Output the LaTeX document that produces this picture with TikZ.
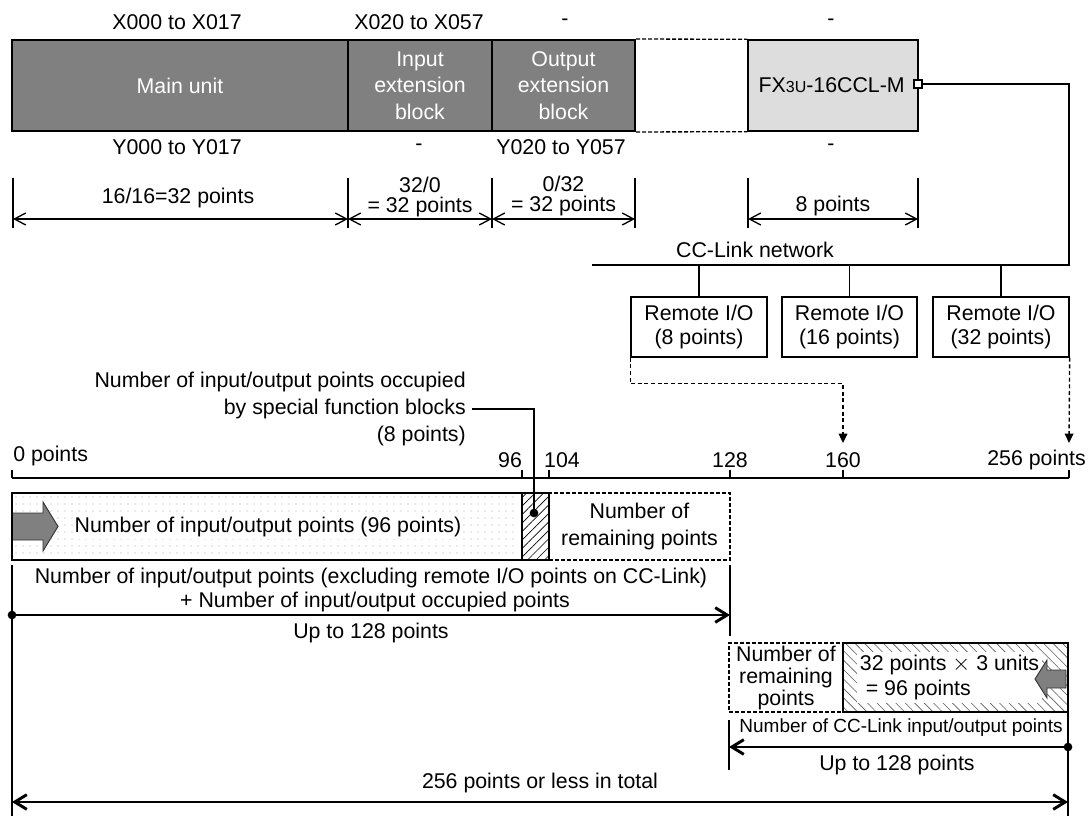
\documentclass[tikz,border=0pt]{standalone}
\usepackage{fontspec}
\setmainfont{Liberation Sans}
\usetikzlibrary{arrows.meta,patterns.meta}
\definecolor{unitgray}{RGB}{128,128,128}
\definecolor{fxgray}{RGB}{221,221,221}
\definecolor{dotgray}{RGB}{165,165,165}
\definecolor{hatchgray}{RGB}{90,90,90}
\newcommand{\px}[1]{#1*0.75pt}
\tikzset{
  tx/.style={inner sep=0pt, align=center},
  ub/.style={draw, line width=1.5pt, fill=unitgray, text=white, inner sep=0pt, align=center, minimum height=\px{91}},
  rb/.style={draw, line width=1pt, inner sep=0pt, align=center, minimum height=\px{60}, font=\fontsize{16}{18}\selectfont},
  tk/.style={line width=1pt},
  dd/.style={line width=1pt, dash pattern=on 3pt off 1.5pt},
  dm/.style={tk, {Straight Barb[length=8.5pt,width=9pt]}-{Straight Barb[length=8.5pt,width=9pt]}},
  up/.style={line width=2.2pt, -{Straight Barb[length=9pt,width=11pt]}},
  ds/.style={line width=1pt, dash pattern=on 3pt off 2pt, -{Triangle[length=7pt,width=6.5pt]}},
  dt/.style={circle, fill, inner sep=0pt, minimum size=6.5pt},
  net/.style={line width=2.2pt},
  two/.style={tx, font=\fontsize{16}{15}\selectfont},
}

\begin{document}
\begin{tikzpicture}[x=0.75pt,y=-0.75pt,font=\fontsize{16}{20}\selectfont]
\useasboundingbox (0,0) rectangle (1088,816);
% X addresses
\node[tx] (xa) at (177,22) {X000 to X017};
\node[tx] (xb) at (419,22) {X020 to X057};
\node[tx] (xc) at (565,22) {-};
\node[tx] (xd) at (831,22) {-};
% units
\node[ub, minimum width=\px{336}] (mu) at (180,85.5) {Main unit};
\node[ub, minimum width=\px{144}] (ie) at (420,85.5) {Input\\extension\\block};
\node[ub, minimum width=\px{143}] (oe) at (563.5,85.5) {Output\\extension\\block};
\node[ub, minimum width=\px{170}, fill=fxgray, line width=1pt] (fx) at (833,85.5) {};
\node[tx, anchor=east] (fxl) at (905,85) {FX{\fontsize{12}{12}\selectfont 3U}-16CCL-M};
\draw[dd] (oe.north east) -- (fx.north west) (oe.south east) -- (fx.south west);
\node[draw, line width=1.5pt, fill=white, inner sep=0pt, minimum size=6pt] (sq) at (917.5,84) {};
% Y addresses
\node[tx] (ya) at (177,147) {Y000 to Y017};
\node[tx] (yb) at (419,147) {-};
\node[tx] (yc) at (561,147) {Y020 to Y057};
\node[tx] (yd) at (831,147) {-};
% occupied points
\foreach \x in {13,348,492,635,748,918} \draw[tk] (\x,178) -- (\x,228);
\coordinate (da) at (13,219);
\coordinate (db) at (348,219);
\coordinate (dc) at (492,219);
\coordinate (de) at (635,219);
\coordinate (df) at (748,219);
\coordinate (dg) at (918,219);
\draw[dm] (da) -- (db);
\draw[dm] (db) -- (dc);
\draw[dm] (dc) -- (de);
\draw[dm] (df) -- (dg);
\node[tx] (pa) at (178,198) {16/16=32 points};
\node[two] (pb) at (420,197) {32/0\\= 32 points};
\node[two] (pc) at (563.5,196) {0/32\\= 32 points};
\node[tx] (pd) at (833,206) {8 points};
% CC-Link network
\coordinate (nl) at (592,265);
\coordinate (nr) at (1069,265);
\draw[net] (sq.east) -| (nr) -- (nl);
\node[tx] (ccn) at (755,250) {CC-Link network};
\node[rb, minimum width=\px{136}] (ra) at (699,327) {Remote I/O\\(8 points)};
\node[rb, minimum width=\px{135}] (rc) at (849.5,327) {Remote I/O\\(16 points)};
\node[rb, minimum width=\px{136}] (rd) at (1001,327) {Remote I/O\\(32 points)};
\foreach \r in {ra,rc,rd} \draw[tk] (\r.north) -- (\r.north |- nl);
% scale
\coordinate (s0) at (12,478);
\coordinate (s1) at (1069,478);
\draw[tk] (s0) -- (s1);
\foreach \x in {12,522,549,730,843,1069} \draw[tk] (\x,470) -- (\x,478);
\node[tx, anchor=west] (n0) at (13,456) {0 points};
\node[tx] (n96) at (510,460) {96};
\node[tx] (n104) at (562,460) {104};
\node[tx] (n128) at (730,460) {128};
\node[tx] (n160) at (843,460) {160};
\node[tx, anchor=east] (n256) at (1086,460) {256 points};
\coordinate (t160) at (843,443);
\coordinate (t256) at (1069,443);
\draw[ds] (ra.south west) -- ++(0,26) -| (t160);
\draw[ds] (rd.south east) -- (t256);
% points of the controller
\foreach \x in {16,23,...,518} \foreach \y in {497,504,...,557} \fill[dotgray] (\x,\y) circle (0.45pt);
\fill[unitgray, draw=black!80, line width=0.7pt] (12,513) -- (43,513) -- (43,502) -- (58,526.5) -- (43,551) -- (43,540) -- (12,540) -- cycle;
\node[tx, fill=white, inner sep=1.5pt] (iot) at (268,527) {Number of input/output points (96 points)};
\node[draw, line width=1.5pt, minimum width=\px{510}, minimum height=\px{67}] (iob) at (267,526.5) {};
\node[draw, dd, minimum width=\px{181}, minimum height=\px{67}, tx] (rm1) at (639.5,526.5) {Number of\\remaining points};
\node[draw, line width=1.5pt, pattern={Lines[angle=45,distance=4.5pt,line width=0.5pt]}, minimum width=\px{27}, minimum height=\px{67}] (sfb) at (535.5,526.5) {};
\node[tx, align=right, anchor=east] (sfn) at (466,409) {Number of input/output points occupied\\by special function blocks\\(8 points)};
\node[dt] (sfd) at (534,513) {};
\draw[tk] ([xshift=4.5pt]sfn.east) -| (sfd.center);
\node[tx] (ex1) at (371,578) {Number of input/output points (excluding remote I/O points on CC-Link)};
\node[tx] (ex2) at (375,602) {+ Number of input/output occupied points};
\node[dt] (ua) at (12,615) {};
\coordinate (ue) at (730,615);
\draw[up] (ua.center) -- (ue);
\node[tx] (u1) at (371,633) {Up to 128 points};
\draw[tk] (12,565) -- (12,816);
\draw[tk] (730,565) -- (730,636);
% CC-Link points
\node[draw, dd, minimum width=\px{114}, minimum height=\px{69}, tx, font=\fontsize{16}{16.5}\selectfont] (rm2) at (786,677.5) {Number of\\remaining\\points};
\node[draw, line width=1.5pt, pattern={Lines[angle=-45,distance=5pt,line width=0.45pt]}, pattern color=hatchgray, minimum width=\px{225}, minimum height=\px{69}] (ccb) at (955.5,677.5) {};
\node[tx, align=left, anchor=west, fill=white, inner sep=2pt, font=\fontsize{16}{18.75}\selectfont] (cct) at (857,677.5) {32 points $\times$ 3 units\\~= 96 points};
\fill[unitgray, draw=black!80, line width=0.7pt] (1066,670) -- (1047,670) -- (1047,660) -- (1035,679) -- (1047,698) -- (1047,688) -- (1066,688) -- cycle;
\node[tx, font=\fontsize{14.25}{16}\selectfont] (ccp) at (901,728) {Number of CC-Link input/output points};
\node[dt] (ca) at (1068,747) {};
\coordinate (ce) at (729,747);
\draw[up] (ca.center) -- (ce);
\draw[tk] (729,720) -- (729,770);
\draw[tk] (1068,712) -- (1068,816);
\node[tx] (u2) at (897,765) {Up to 128 points};
% total
\node[tx] (tot) at (540,783) {256 points or less in total};
\coordinate (ba) at (12,802);
\coordinate (bb) at (1068,802);
\draw[up, {Straight Barb[length=9pt,width=11pt]}-{Straight Barb[length=9pt,width=11pt]}] (ba) -- (bb);
\end{tikzpicture}
\end{document}
